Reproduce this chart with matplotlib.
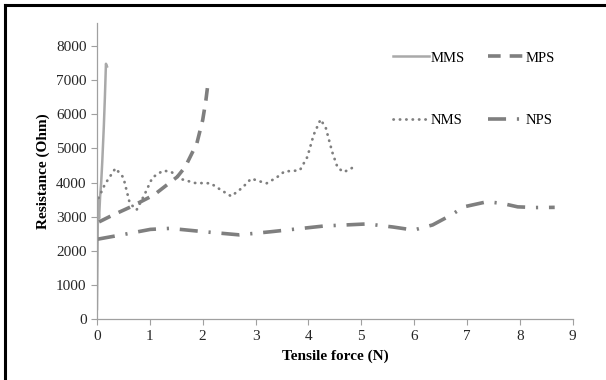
import matplotlib
matplotlib.use("Agg")
import matplotlib.pyplot as plt
from matplotlib.lines import Line2D

# Data
mms_x = [0.0, 0.02, 0.04, 0.06, 0.08, 0.10, 0.12, 0.13, 0.15, 0.17, 0.19]
mms_y = [300, 3500, 2950, 3600, 4000, 4600, 5300, 5650, 6500, 7480, 7400]

mps_x = [0.04, 0.30, 0.64, 1.08, 1.52, 1.67, 1.89, 2.00, 2.06, 2.10]
mps_y = [2850, 3050, 3290, 3640, 4170, 4460, 5150, 5830, 6400, 6900]

nms_x = [0.03, 0.15, 0.35, 0.50, 0.62, 0.75, 0.90, 1.05, 1.25, 1.40, 1.60,
         1.85, 2.15, 2.35, 2.54, 2.75, 2.92, 3.05, 3.21, 3.40, 3.55, 3.70,
         3.84, 3.98, 4.10, 4.23, 4.33, 4.45, 4.55, 4.66, 4.78, 4.87]
nms_y = [3550, 3950, 4420, 4150, 3400, 3200, 3650, 4150, 4350, 4320, 4100,
         3990, 3980, 3780, 3600, 3850, 4120, 4050, 3980, 4150, 4330, 4340,
         4365, 4750, 5400, 5850, 5600, 4900, 4450, 4310, 4380, 4480]

nps_x = [0.0, 0.50, 1.01, 1.38, 2.04, 2.69, 3.28, 4.30, 5.11, 5.60, 5.99,
         6.35, 6.70, 6.94, 7.38, 7.67, 7.96, 8.30, 8.66]
nps_y = [2340, 2480, 2630, 2660, 2560, 2470, 2560, 2730, 2790, 2700, 2610,
         2760, 3050, 3290, 3440, 3390, 3290, 3270, 3275]

x_ticks = list(range(0, 10))
y_ticks = list(range(0, 9000, 1000))

plt.rcParams["font.family"] = ["Liberation Serif", "DejaVu Serif"]

fig = plt.figure(figsize=(6.06, 3.80), dpi=100)
ax = fig.add_axes([0.160, 0.160, 0.785, 0.780])

dark = "#7f7f7f"
light = "#a9a9a9"

h_mms, = ax.plot(mms_x, mms_y, color=light, lw=1.8, ls="-", label="MMS")
h_mps, = ax.plot(mps_x, mps_y, color=dark, lw=2.6, ls=(0, (3.5, 2.5)), label="MPS")
h_nms, = ax.plot(nms_x, nms_y, color=dark, lw=2.0, ls=(0, (0.1, 2.2)),
                 dash_capstyle="round", label="NMS")
h_nps, = ax.plot(nps_x, nps_y, color=dark, lw=2.6, ls=(0, (5, 3, 0.6, 3)), label="NPS")

ax.set_xlim(0, 9)
ax.set_ylim(0, 8680)
ax.set_xticks(x_ticks)
ax.set_yticks(y_ticks)
ax.tick_params(labelsize=11, colors="#262626", length=4, width=0.8)
ax.tick_params(axis="both", color="#a0a0a0")
for s in ("top", "right"):
    ax.spines[s].set_visible(False)
for s in ("left", "bottom"):
    ax.spines[s].set_color("#a0a0a0")
    ax.spines[s].set_linewidth(0.9)

ax.set_xlabel("Tensile force (N)", fontsize=11, fontweight="bold", labelpad=5)
ax.set_ylabel("Resistance (Ohm)", fontsize=11, fontweight="bold", labelpad=4)

# column-wise fill: MMS / NMS in first column, MPS / NPS in second
ax.legend([h_mms, h_nms, h_mps, h_nps], ["MMS", "NMS", "MPS", "NPS"],
          loc="upper left", bbox_to_anchor=(0.594, 0.948), ncol=2,
          frameon=False, fontsize=10.5, handlelength=2.5, handletextpad=0.1,
          columnspacing=1.6, labelspacing=3.35)

# black frame (left and top edges visible in the reference)
fig.add_artist(Line2D([0.009, 0.009], [0.0, 0.987], transform=fig.transFigure,
                      color="black", lw=2.2))
fig.add_artist(Line2D([0.009, 1.0], [0.987, 0.987], transform=fig.transFigure,
                      color="black", lw=2.2))

fig.savefig("out.png", dpi=100)
